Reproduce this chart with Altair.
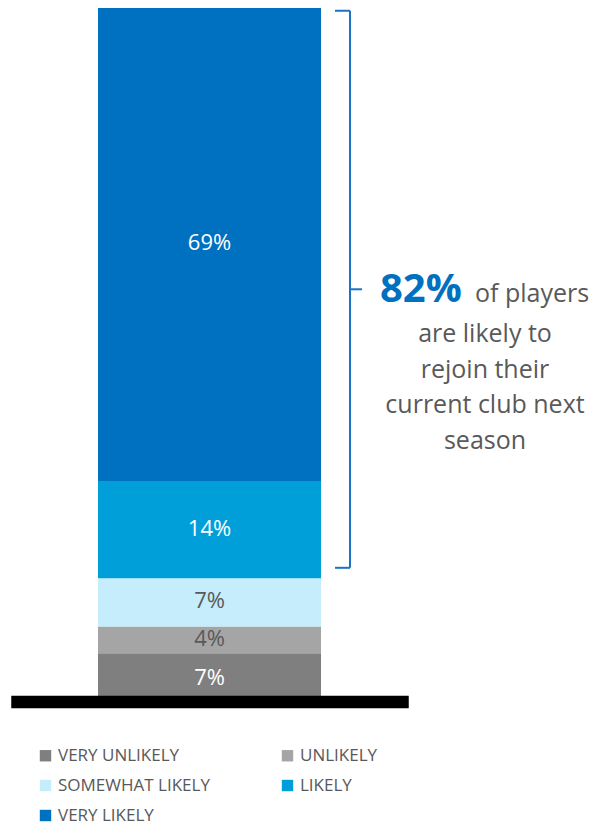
import altair as alt
import pandas as pd

categories = ["VERY UNLIKELY", "UNLIKELY", "SOMEWHAT LIKELY", "LIKELY", "VERY LIKELY"]
values = [7.5, 3.9, 7.0, 14.1, 68.6]
labels = ["7%", "4%", "7%", "14%", "69%"]
colors = ["#7f7f7f", "#a5a5a5", "#c5edfc", "#009fda", "#0070c0"]
label_colors = ["#ffffff", "#595959", "#595959", "#ffffff", "#ffffff"]

brace_range = [19.9, 100.7]
headline = "82%"
headline_rest = "of players"
note_lines = ["are likely to", "rejoin their", "current club next", "season"]

total = sum(values)
cum = []
s = 0.0
for v in values:
    cum.append(s + v / 2)
    s += v

df = pd.DataFrame({
    "group": ["all"] * len(values),
    "cat": categories,
    "value": values,
    "idx": list(range(len(values))),
    "label": labels,
    "mid": cum,
    "lc": label_colors,
})

yscale = alt.Scale(domain=[0, total], nice=False, zero=True)

base = alt.Chart(df)

bars = base.mark_bar(size=223).encode(
    x=alt.X("group:N", title=None,
            axis=alt.Axis(labels=False, ticks=False, domain=True, domainColor="#000000",
                          domainWidth=12.5, offset=-3.5, domainCap="square", zindex=1,
                          title=None)),
    y=alt.Y("value:Q", stack="zero", scale=yscale, axis=None),
    order=alt.Order("idx:Q", sort="ascending"),
    color=alt.Color("cat:N", scale=alt.Scale(domain=categories, range=colors),
                    legend=alt.Legend(orient="none", legendX=20, legendY=739, direction="horizontal",
                                      columns=2, symbolType="square", symbolSize=130,
                                      symbolStrokeWidth=0, labelFont="Open Sans", labelFontSize=17,
                                      labelColor="#595959", columnPadding=69, rowPadding=12,
                                      labelOffset=4, labelLimit=300, title=None)),
)

texts = base.mark_text(font="Open Sans", fontSize=22, baseline="middle", align="center", dy=-1).encode(
    x=alt.X("group:N"),
    y=alt.Y("mid:Q", scale=yscale),
    text="label:N",
    color=alt.Color("lc:N", scale=None),
)

bc = "#1a73c8"
brace_v = alt.Chart(pd.DataFrame({"a": [0]})).mark_rule(color=bc, strokeWidth=2).encode(
    x=alt.value(333), y=alt.datum(brace_range[0]), y2=alt.datum(brace_range[1]))
brace_top = alt.Chart(pd.DataFrame({"a": [0]})).mark_rule(color=bc, strokeWidth=2).encode(
    x=alt.value(318), x2=alt.value(333), y=alt.datum(brace_range[1]))
brace_bot = alt.Chart(pd.DataFrame({"a": [0]})).mark_rule(color=bc, strokeWidth=2).encode(
    x=alt.value(318), x2=alt.value(333), y=alt.datum(brace_range[0]))
brace_mid = alt.Chart(pd.DataFrame({"a": [0]})).mark_rule(color=bc, strokeWidth=2).encode(
    x=alt.value(333), x2=alt.value(345), y=alt.datum((brace_range[0] + brace_range[1]) / 2))

head = alt.Chart(pd.DataFrame({"t": [headline]})).mark_text(
    font="Open Sans", fontSize=40, fontWeight="bold", color="#0070c0", align="left",
    baseline="alphabetic").encode(x=alt.value(363), y=alt.value(294), text="t:N")
head2 = alt.Chart(pd.DataFrame({"t": [headline_rest]})).mark_text(
    font="Open Sans", fontSize=25, color="#595959", align="left",
    baseline="alphabetic").encode(x=alt.value(458), y=alt.value(294), text="t:N")
note = alt.Chart(pd.DataFrame({"t": [note_lines]})).mark_text(
    font="Open Sans", fontSize=25, color="#595959", align="center", baseline="alphabetic",
    lineHeight=35.5).encode(x=alt.value(468), y=alt.value(334), text="t")

chart = alt.layer(bars, texts, brace_v, brace_top, brace_bot, brace_mid, head, head2, note).properties(
    width=385, height=697,
    autosize=alt.AutoSizeParams(type="none"),
    padding={"left": 17, "top": 8, "right": 192, "bottom": 121},
).configure_view(stroke=None)

chart.save("out.html", embed_options={"renderer": "svg", "actions": False})
